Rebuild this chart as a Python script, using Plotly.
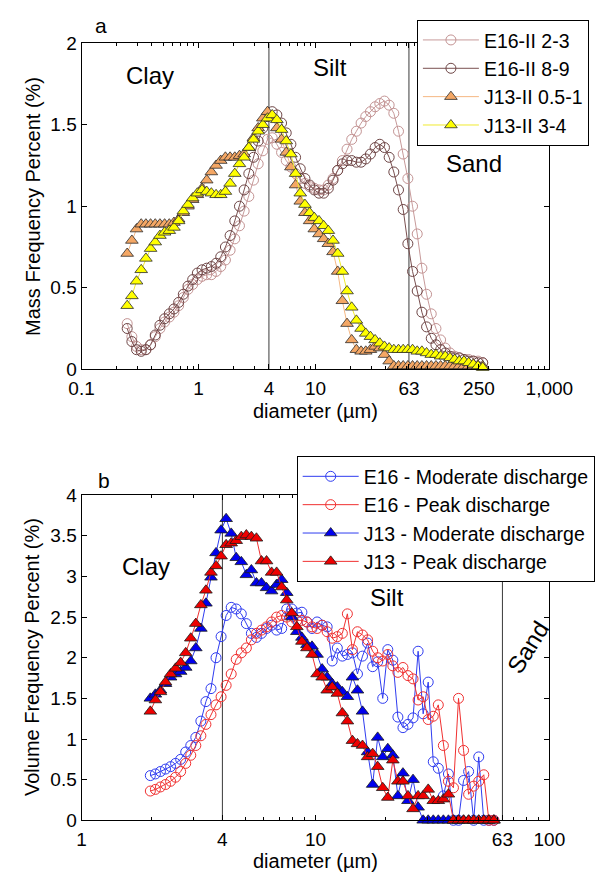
import plotly.graph_objects as go

# ---------------- Panel a: mass frequency of core sub-samples ----------------
diam_a = [0.2455, 0.2692, 0.2951, 0.3236, 0.3548, 0.3890, 0.4266, 0.4677, 0.5129, 0.5623,
          0.6166, 0.6761, 0.7413, 0.8128, 0.8913, 0.9772, 1.072, 1.175, 1.288, 1.413,
          1.549, 1.698, 1.862, 2.042, 2.239, 2.455, 2.692, 2.951, 3.236, 3.548,
          3.890, 4.266, 4.677, 5.129, 5.623, 6.166, 6.761, 7.413, 8.128, 8.913,
          9.772, 10.72, 11.75, 12.88, 14.13, 15.49, 16.98, 18.62, 20.42, 22.39,
          24.55, 26.92, 29.51, 32.36, 35.48, 38.90, 42.66, 46.77, 51.29, 56.23,
          61.66, 67.61, 74.13, 81.28, 89.13, 97.72, 107.2, 117.5, 128.8, 141.3,
          154.9, 169.8, 186.2, 204.2, 223.9, 245.5, 269.2]

e16_2_3 = [0.28, 0.20, 0.14, 0.12, 0.12, 0.15, 0.20, 0.25, 0.29, 0.32,
           0.35, 0.39, 0.44, 0.49, 0.52, 0.55, 0.57, 0.58, 0.58, 0.60,
           0.63, 0.67, 0.73, 0.80, 0.88, 0.97, 1.06, 1.16, 1.26, 1.34,
           1.41, 1.42, 1.38, 1.33, 1.28, 1.24, 1.20, 1.17, 1.14, 1.12,
           1.11, 1.10, 1.10, 1.13, 1.17, 1.22, 1.28, 1.35, 1.41, 1.46,
           1.51, 1.55, 1.58, 1.61, 1.63, 1.645, 1.62, 1.57, 1.46, 1.32,
           1.17, 1.00, 0.83, 0.62, 0.46, 0.34, 0.25, 0.18, 0.13, 0.10,
           0.08, 0.07, 0.06, 0.06, 0.05, 0.05, 0.04]

e16_8_9 = [0.25, 0.17, 0.12, 0.11, 0.12, 0.15, 0.21, 0.27, 0.31, 0.34,
           0.37, 0.41, 0.46, 0.51, 0.55, 0.59, 0.61, 0.62, 0.63, 0.65,
           0.69, 0.75, 0.82, 0.91, 1.00, 1.10, 1.20, 1.30, 1.40, 1.48,
           1.55, 1.58, 1.56, 1.51, 1.45, 1.38, 1.30, 1.23, 1.17, 1.13,
           1.10, 1.08, 1.08, 1.11, 1.16, 1.22, 1.26, 1.28, 1.28, 1.27,
           1.27, 1.29, 1.32, 1.36, 1.38, 1.36, 1.30, 1.21, 1.10, 0.98,
           0.77, 0.60, 0.48, 0.35, 0.26, 0.19, 0.15, 0.12, 0.10, 0.08,
           0.07, 0.07, 0.06, 0.05, 0.05, 0.04, 0.04]

j13_05_1 = [0.71, 0.79, 0.86, 0.89, 0.89, 0.89, 0.89, 0.89, 0.89, 0.89,
            0.90, 0.92, 0.96, 1.00, 1.04, 1.07, 1.11, 1.16, 1.21, 1.25,
            1.28, 1.30, 1.30, 1.30, 1.31, 1.32, 1.36, 1.42, 1.48, 1.54,
            1.58, 1.55, 1.48, 1.41, 1.33, 1.24, 1.13, 1.03, 0.96, 0.91,
            0.86, 0.83, 0.80, 0.77, 0.72, 0.60, 0.42, 0.28, 0.18, 0.12,
            0.11, 0.11, 0.12, 0.14, 0.13, 0.09, 0.05, 0.02, 0.02, 0.02,
            0.02, 0.02, 0.02, 0.02, 0.02, 0.02, 0.02, 0.02, 0.02, 0.02,
            0.02, 0.02, 0.02, 0.02, 0.02, 0.02, 0.02]

j13_3_4 = [0.39, 0.45, 0.54, 0.61, 0.68, 0.74, 0.78, 0.82, 0.84, 0.85,
           0.87, 0.91, 0.97, 1.01, 1.05, 1.08, 1.10, 1.09, 1.08, 1.07,
           1.07, 1.09, 1.14, 1.20, 1.26, 1.30, 1.36, 1.41, 1.46, 1.50,
           1.54, 1.56, 1.53, 1.47, 1.40, 1.32, 1.20, 1.08, 1.01, 0.96,
           0.93, 0.91, 0.88, 0.85, 0.79, 0.71, 0.60, 0.48, 0.38, 0.30,
           0.25, 0.22, 0.20, 0.18, 0.16, 0.14, 0.13, 0.12, 0.12, 0.12,
           0.12, 0.12, 0.11, 0.11, 0.10, 0.09, 0.09, 0.08, 0.08, 0.07,
           0.06, 0.05, 0.05, 0.04, 0.03, 0.02, 0.01]

# ---------------- Panel b: volume frequency at two discharge states ----------------
diam_b = [1.968, 2.068, 2.174, 2.285, 2.402, 2.523, 2.652, 2.788, 2.930, 3.079,
          3.236, 3.401, 3.575, 3.757, 3.949, 4.150, 4.362, 4.584, 4.818, 5.064,
          5.321, 5.593, 5.878, 6.178, 6.493, 6.823, 7.172, 7.537, 7.922, 8.325,
          8.750, 9.196, 9.665, 10.16, 10.68, 11.22, 11.79, 12.40, 13.03, 13.69,
          14.39, 15.12, 15.89, 16.71, 17.56, 18.45, 19.39, 20.38, 21.42, 22.51,
          23.66, 24.86, 26.13, 27.47, 28.87, 30.34, 31.89, 33.51, 35.22, 37.02,
          38.90, 40.89, 42.97, 45.16, 47.47, 49.89, 52.43, 55.11, 57.92]

e16_moderate = [0.55, 0.57, 0.60, 0.63, 0.66, 0.70, 0.75, 0.84, 0.92, 1.02,
                1.22, 1.46, 1.62, 2.00, 2.26, 2.52, 2.62, 2.60, 2.54, 2.42,
                2.30, 2.25, 2.30, 2.36, 2.40, 2.34, 2.36, 2.60, 2.60, 2.55,
                2.56, 2.44, 2.36, 2.44, 2.40, 2.38, 1.96, 2.12, 2.02, 2.04,
                2.06, 1.80, 2.02, 2.18, 1.89, 1.95, 1.50, 2.10, 1.97, 1.27,
                1.14, 1.18, 1.26, 2.08, 1.31, 1.70, 0.72, 0.64, 0.30, 0.57,
                0.00, 0.00, 0.49, 0.60, 0.00, 0.78, 0.00, 0.00, 0.00]

e16_peak = [0.36, 0.38, 0.41, 0.44, 0.48, 0.53, 0.60, 0.70, 0.80, 0.92,
            1.04, 1.18, 1.30, 1.42, 1.52, 1.66, 1.80, 1.98, 2.06, 2.12,
            2.22, 2.30, 2.34, 2.38, 2.44, 2.50, 2.52, 2.50, 2.44, 2.46,
            2.46, 2.44, 2.38, 2.36, 2.40, 2.32, 2.24, 2.26, 2.30, 2.54,
            2.10, 2.32, 2.28, 2.22, 2.08, 2.00, 1.96, 2.04, 1.90, 1.82,
            1.88, 1.78, 1.74, 1.48, 1.52, 1.24, 1.28, 1.42, 0.92, 0.48,
            0.40, 1.50, 0.86, 0.32, 0.42, 0.48, 0.56, 0.00, 0.00]

j13_moderate = [1.50, 1.55, 1.60, 1.68, 1.76, 1.80, 1.83, 1.88, 1.96, 2.12,
                2.36, 2.67, 2.99, 3.29, 3.57, 3.71, 3.53, 3.23, 3.18, 3.02,
                3.08, 2.92, 2.92, 2.86, 2.82, 2.90, 2.96, 2.80, 2.50, 2.32,
                2.25, 2.16, 2.14, 2.04, 1.86, 1.76, 1.68, 1.64, 1.58, 1.52,
                1.76, 1.60, 1.34, 0.84, 0.44, 1.02, 0.78, 0.88, 0.80, 0.30,
                0.58, 0.24, 0.50, 0.16, 0.00, 0.00, 0.00, 0.00, 0.00, 0.00,
                0.00, 0.00, 0.00, 0.00, 0.00, 0.00, 0.00, 0.00, 0.00]

j13_peak = [1.34, 1.48, 1.58, 1.70, 1.80, 1.87, 1.94, 2.06, 2.24, 2.42,
            2.65, 2.83, 3.05, 3.13, 3.25, 3.39, 3.41, 3.44, 3.49, 3.51,
            3.49, 3.47, 3.19, 3.19, 3.05, 3.05, 2.87, 2.71, 2.55, 2.38,
            2.20, 2.12, 2.04, 1.80, 1.76, 1.60, 1.64, 1.56, 1.32, 1.22,
            0.98, 0.94, 0.92, 0.78, 0.82, 0.66, 0.40, 0.28, 0.74, 0.48,
            0.48, 0.30, 0.14, 0.30, 0.30, 0.38, 0.24, 0.24, 0.26, 0.32,
            0.00, 0.00, 0.00, 0.00, 0.00, 0.00, 0.00, 0.00, 0.00]

# Grain-size class limits (clay / silt / sand), in micrometres
class_limits = [4, 63]

ticks_a = [0.1, 1, 4, 10, 63, 250, 1000]
ticklabels_a = ["0.1", "1", "4", "10", "63", "250", "1,000"]
ticks_b = [1, 4, 10, 63, 100]
ticklabels_b = ["1", "4", "10", "63", "100"]
yticks_a = [0, 0.5, 1, 1.5, 2]
yticks_b = [0, 0.5, 1, 1.5, 2, 2.5, 3, 3.5, 4]

FONT = "Liberation Sans, Arial, Helvetica, sans-serif"
W, H = 610, 884


def px_x(p):
    return p / W


def px_y(p):
    return 1 - p / H


minor_a = [m * 10 ** e for e in (-1, 0, 1, 2) for m in range(2, 10)]
minor_b = [m * 10 ** e for e in (0, 1) for m in range(2, 10)]

fig = go.Figure()

# class-limit lines, drawn first so the data sit on top
for lim in class_limits:
    fig.add_trace(go.Scatter(x=[lim, lim], y=[yticks_a[0], yticks_a[-1]], mode="lines",
                             line=dict(color="#3a3a3a", width=1), showlegend=False,
                             hoverinfo="skip", xaxis="x", yaxis="y"))
    fig.add_trace(go.Scatter(x=[lim, lim], y=[yticks_b[0], yticks_b[-1]], mode="lines",
                             line=dict(color="#3a3a3a", width=1), showlegend=False,
                             hoverinfo="skip", xaxis="x2", yaxis="y2"))

# panel a series
fig.add_trace(go.Scatter(x=diam_a, y=e16_2_3, name="E16-II 2-3", mode="lines+markers",
                         line=dict(color="#c79a9a", width=1),
                         marker=dict(symbol="circle-open", size=10, color="#c39393",
                                     line=dict(width=1)),
                         cliponaxis=False, xaxis="x", yaxis="y", legend="legend"))
fig.add_trace(go.Scatter(x=diam_a, y=e16_8_9, name="E16-II 8-9", mode="lines+markers",
                         line=dict(color="#7a5050", width=1),
                         marker=dict(symbol="circle-open", size=10, color="#6e4646",
                                     line=dict(width=1)),
                         cliponaxis=False, xaxis="x", yaxis="y", legend="legend"))
fig.add_trace(go.Scatter(x=diam_a, y=j13_05_1, name="J13-II 0.5-1", mode="lines+markers",
                         line=dict(color="#f5b783", width=1),
                         marker=dict(symbol="triangle-up", size=11, color="#f4a765",
                                     line=dict(color="#2b2b2b", width=0.8)),
                         cliponaxis=False, xaxis="x", yaxis="y", legend="legend"))
fig.add_trace(go.Scatter(x=diam_a, y=j13_3_4, name="J13-II 3-4", mode="lines+markers",
                         line=dict(color="#f0ea30", width=1),
                         marker=dict(symbol="triangle-up", size=11, color="#ffff00",
                                     line=dict(color="#2b2b2b", width=0.8)),
                         cliponaxis=False, xaxis="x", yaxis="y", legend="legend"))

# panel b series
fig.add_trace(go.Scatter(x=diam_b, y=e16_moderate, name="E16 - Moderate discharge",
                         mode="lines+markers", line=dict(color="#2f3cf0", width=1),
                         marker=dict(symbol="circle-open", size=10, color="#2f3cf0",
                                     line=dict(width=1)),
                         cliponaxis=False, xaxis="x2", yaxis="y2", legend="legend2"))
fig.add_trace(go.Scatter(x=diam_b, y=e16_peak, name="E16 - Peak discharge",
                         mode="lines+markers", line=dict(color="#f03030", width=1),
                         marker=dict(symbol="circle-open", size=10, color="#f03030",
                                     line=dict(width=1)),
                         cliponaxis=False, xaxis="x2", yaxis="y2", legend="legend2"))
fig.add_trace(go.Scatter(x=diam_b, y=j13_moderate, name="J13 - Moderate discharge",
                         mode="lines+markers", line=dict(color="#2f3cf0", width=1),
                         marker=dict(symbol="triangle-up", size=11, color="#0000ee",
                                     line=dict(color="#1a1a1a", width=0.8)),
                         cliponaxis=False, xaxis="x2", yaxis="y2", legend="legend2"))
fig.add_trace(go.Scatter(x=diam_b, y=j13_peak, name="J13 - Peak discharge",
                         mode="lines+markers", line=dict(color="#f03030", width=1),
                         marker=dict(symbol="triangle-up", size=11, color="#ee0000",
                                     line=dict(color="#1a1a1a", width=0.8)),
                         cliponaxis=False, xaxis="x2", yaxis="y2", legend="legend2"))

axis_common = dict(showline=True, linecolor="black", linewidth=1, mirror="ticks",
                   ticks="inside", ticklen=5, tickwidth=1, tickcolor="black",
                   showgrid=False, zeroline=False,
                   tickfont=dict(family=FONT, size=19, color="black"))
minor_style = dict(ticks="inside", ticklen=3, tickwidth=1, tickcolor="black", showgrid=False)

xdom = [px_x(73), px_x(571)]
fig.update_layout(
    width=W, height=H, margin=dict(l=0, r=0, t=0, b=0),
    paper_bgcolor="white", plot_bgcolor="white",
    font=dict(family=FONT, color="black"),
    xaxis=dict(type="log", range=[-1, 3], domain=xdom, anchor="y",
               tickmode="array", tickvals=ticks_a, ticktext=ticklabels_a,
               ticklabelstandoff=2,
               minor=dict(tickmode="array", tickvals=minor_a, **minor_style),
               **axis_common),
    yaxis=dict(range=[0, 2], domain=[px_y(368), px_y(34)], anchor="x",
               tickmode="array", tickvals=yticks_a,
               ticktext=[f"{v:g}" for v in yticks_a], **axis_common),
    xaxis2=dict(type="log", range=[0, 2], domain=xdom, anchor="y2",
                tickmode="array", tickvals=ticks_b, ticktext=ticklabels_b,
                ticklabelstandoff=2,
                minor=dict(tickmode="array", tickvals=minor_b, **minor_style),
                **axis_common),
    yaxis2=dict(range=[0, 4], domain=[px_y(830), px_y(497)], anchor="x2",
                tickmode="array", tickvals=yticks_b,
                ticktext=[f"{v:g}" for v in yticks_b], **axis_common),
    legend=dict(x=px_x(430), y=px_y(10), xanchor="left", yanchor="top",
                bgcolor="white", bordercolor="black", borderwidth=1,
                font=dict(family=FONT, size=19.5, color="black"), itemwidth=56),
    legend2=dict(x=px_x(302), y=px_y(457), xanchor="left", yanchor="top",
                 bgcolor="white", bordercolor="black", borderwidth=1,
                 font=dict(family=FONT, size=19.5, color="black"), itemwidth=56),
)


def label(text, x, y, size, angle=0):
    fig.add_annotation(text=text, x=px_x(x), y=px_y(y), xref="paper", yref="paper",
                       showarrow=False, textangle=angle, xanchor="center", yanchor="middle",
                       font=dict(family=FONT, size=size, color="black"))


label("a", 94, 16, 21)
label("b", 97, 482, 21)
label("Clay", 146, 67, 24)
label("Silt", 337, 59, 24)
label("Sand", 491, 157, 24)
label("Clay", 142, 570, 24)
label("Silt", 398, 602, 24)
label("Sand", 548, 653, 24, angle=-58)
label("Mass Frequency Percent (%)", 21, 201, 20, angle=-90)
label("Volume Frequency Percent (%)", 20, 663, 20, angle=-90)
label("diameter (µm)", 322, 411, 20)
label("diameter (µm)", 322, 872, 20)

fig.write_html("out.html")
